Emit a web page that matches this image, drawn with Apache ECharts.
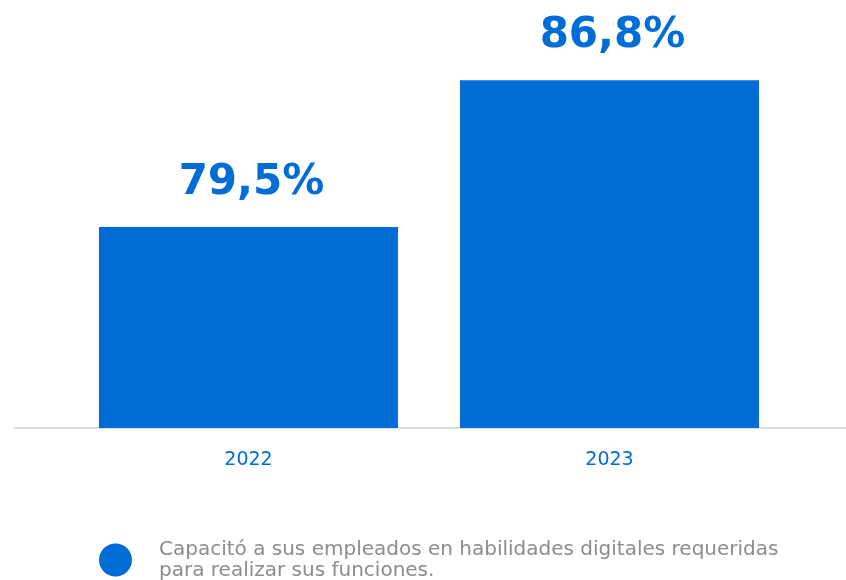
<!DOCTYPE html>
<html>
<head>
<meta charset="utf-8">
<script src="https://cdn.jsdelivr.net/npm/echarts@6/dist/echarts.min.js"></script>
<style>
html,body{margin:0;padding:0;background:#fff;}
#c{width:846px;height:580px;}
</style>
</head>
<body>
<div id="c"></div>
<script>
const categories = ['2022', '2023'];
const values = [79.5, 86.8];
const seriesName = 'Capacitó a sus empleados en habilidades digitales requeridas\npara realizar sus funciones.';

const blue = '#006CD6';
const chart = echarts.init(document.getElementById('c'));
chart.setOption({
  animation: false,
  backgroundColor: '#fff',
  grid: {left: 68, right: 56, top: 16, bottom: 152},
  xAxis: {
    type: 'category',
    data: categories,
    axisLine: {show: false},
    axisTick: {show: false},
    axisLabel: {color: blue, fontSize: 19, fontFamily: 'DejaVu Sans', margin: 23}
  },
  yAxis: {
    type: 'value', min: 69.5, max: 90,
    show: false, splitLine: {show: false}
  },
  legend: {
    left: 94, top: 533,
    icon: 'circle', itemWidth: 33, itemHeight: 33, itemGap: 10,
    textStyle: {color: '#8c8c8c', fontSize: 20, fontFamily: 'DejaVu Sans', lineHeight: 21, padding: [2,0,0,22]}
  },
  graphic: [{
    type: 'line', z: 0,
    shape: {x1: 14, y1: 428, x2: 846, y2: 428},
    style: {stroke: '#dddddd', lineWidth: 2}
  }],
  series: [{
    name: seriesName,
    type: 'bar',
    data: values,
    barWidth: 299,
    itemStyle: {color: blue},
    z: 3,
    label: {
      show: true, position: 'top', distance: 23, offset: [3, 0],
      color: blue, fontSize: 42, fontWeight: 'bold', fontFamily: 'DejaVu Sans',
      formatter: p => p.value.toFixed(1).replace('.', ',') + '%'
    }
  }]
});
</script>
</body>
</html>
